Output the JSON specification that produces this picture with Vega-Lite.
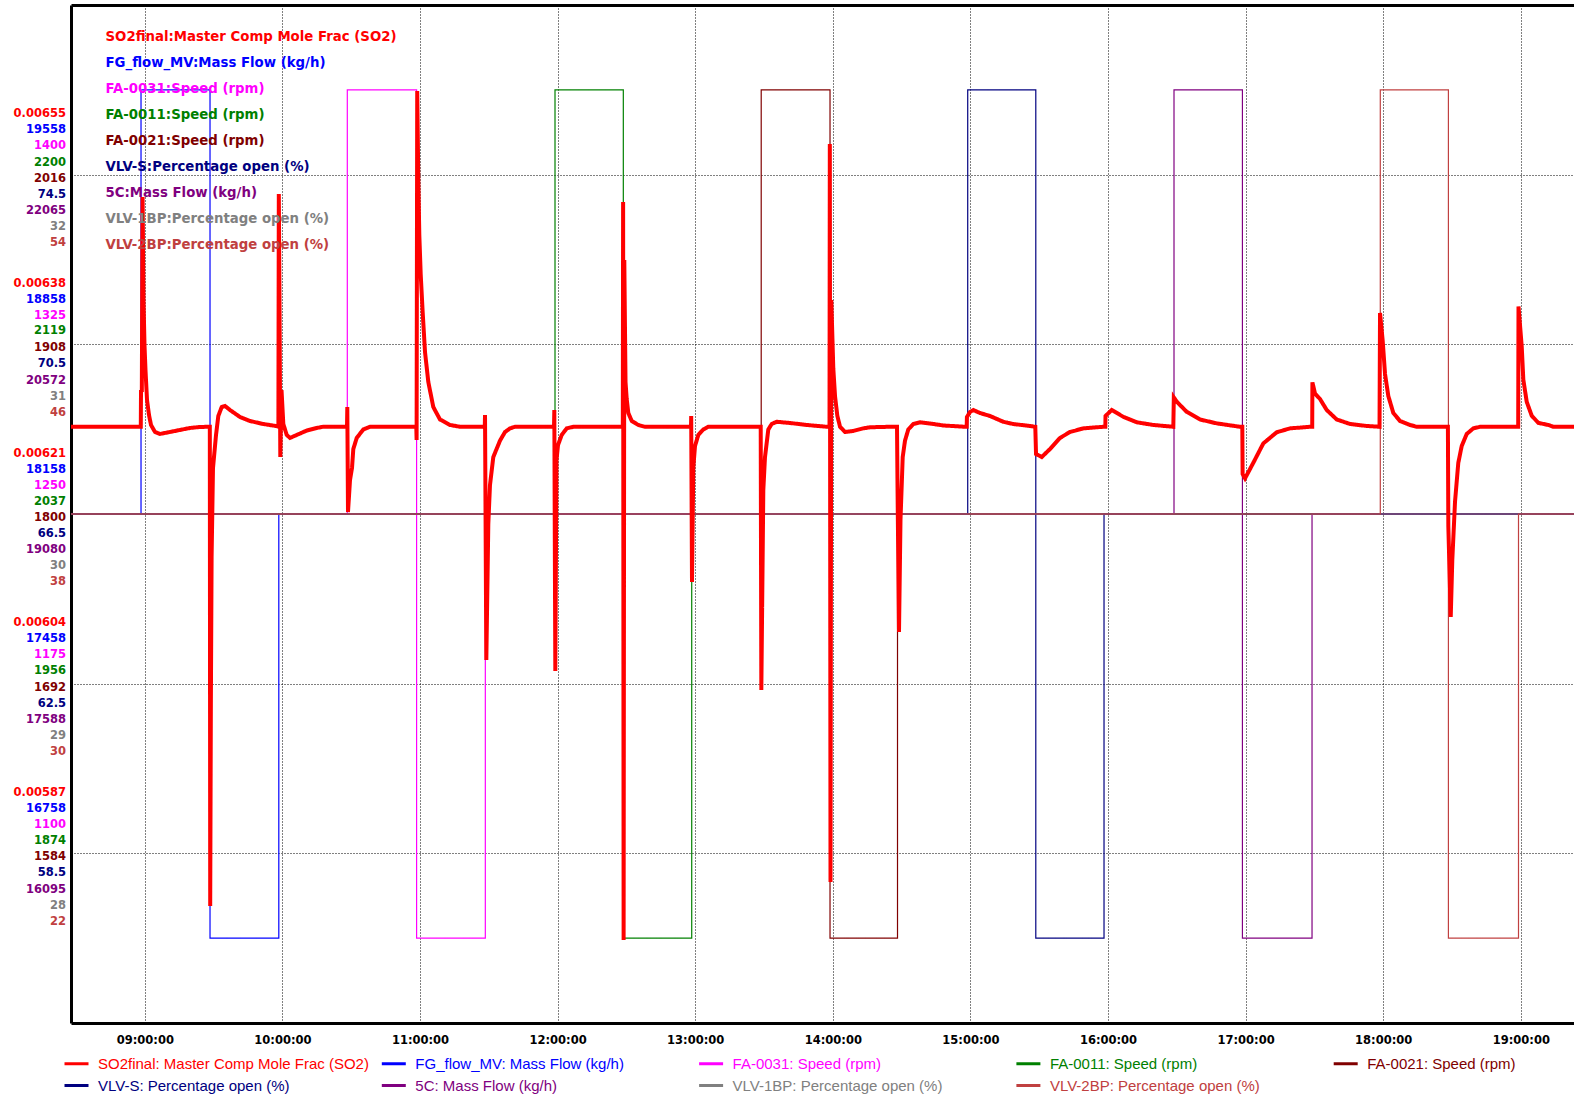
{
  "$schema": "https://vega.github.io/schema/vega-lite/v6.json",
  "width": 1503,
  "height": 1018,
  "autosize": {"type": "none"},
  "padding": {"left": 71, "top": 5, "right": 0, "bottom": 75},
  "background": "white",
  "config": {
    "view": {"stroke": null},
    "axis": {"labelFont": "DejaVu Sans", "labelFontWeight": "bold", "labelFontSize": 11.5, "ticks": false, "tickSize": 0, "domain": false, "grid": false, "title": null}
  },
  "data": {"values": [
    {"series": "FG_flow_MV: Mass Flow (kg/h)", "t": "2024-01-01T08:27:49", "v": 18158},
    {"series": "FG_flow_MV: Mass Flow (kg/h)", "t": "2024-01-01T08:58:21", "v": 19908},
    {"series": "FG_flow_MV: Mass Flow (kg/h)", "t": "2024-01-01T09:28:26", "v": 16408},
    {"series": "FG_flow_MV: Mass Flow (kg/h)", "t": "2024-01-01T09:58:26", "v": 18158},
    {"series": "FG_flow_MV: Mass Flow (kg/h)", "t": "2024-01-01T19:23:12", "v": 18158},
    {"series": "FA-0031: Speed (rpm)", "t": "2024-01-01T08:27:49", "v": 1250},
    {"series": "FA-0031: Speed (rpm)", "t": "2024-01-01T10:28:18", "v": 1437.5},
    {"series": "FA-0031: Speed (rpm)", "t": "2024-01-01T10:58:31", "v": 1062.5},
    {"series": "FA-0031: Speed (rpm)", "t": "2024-01-01T11:28:29", "v": 1250},
    {"series": "FA-0031: Speed (rpm)", "t": "2024-01-01T19:23:12", "v": 1250},
    {"series": "FA-0011: Speed (rpm)", "t": "2024-01-01T08:27:49", "v": 2037},
    {"series": "FA-0011: Speed (rpm)", "t": "2024-01-01T11:58:52", "v": 2240.7},
    {"series": "FA-0011: Speed (rpm)", "t": "2024-01-01T12:28:39", "v": 1833.3},
    {"series": "FA-0011: Speed (rpm)", "t": "2024-01-01T12:58:29", "v": 2037},
    {"series": "FA-0011: Speed (rpm)", "t": "2024-01-01T19:23:12", "v": 2037},
    {"series": "FA-0021: Speed (rpm)", "t": "2024-01-01T08:27:49", "v": 1800},
    {"series": "FA-0021: Speed (rpm)", "t": "2024-01-01T13:28:47", "v": 2070},
    {"series": "FA-0021: Speed (rpm)", "t": "2024-01-01T13:58:47", "v": 1530},
    {"series": "FA-0021: Speed (rpm)", "t": "2024-01-01T14:28:13", "v": 1800},
    {"series": "FA-0021: Speed (rpm)", "t": "2024-01-01T19:23:12", "v": 1800},
    {"series": "VLV-S: Percentage open (%)", "t": "2024-01-01T08:27:49", "v": 66.5},
    {"series": "VLV-S: Percentage open (%)", "t": "2024-01-01T14:58:50", "v": 76.5},
    {"series": "VLV-S: Percentage open (%)", "t": "2024-01-01T15:28:31", "v": 56.5},
    {"series": "VLV-S: Percentage open (%)", "t": "2024-01-01T15:58:16", "v": 66.5},
    {"series": "VLV-S: Percentage open (%)", "t": "2024-01-01T19:23:12", "v": 66.5},
    {"series": "5C: Mass Flow (kg/h)", "t": "2024-01-01T08:27:49", "v": 19080},
    {"series": "5C: Mass Flow (kg/h)", "t": "2024-01-01T16:28:47", "v": 22811},
    {"series": "5C: Mass Flow (kg/h)", "t": "2024-01-01T16:58:37", "v": 15349},
    {"series": "5C: Mass Flow (kg/h)", "t": "2024-01-01T17:28:58", "v": 19080},
    {"series": "5C: Mass Flow (kg/h)", "t": "2024-01-01T19:23:12", "v": 19080},
    {"series": "VLV-1BP: Percentage open (%)", "t": "2024-01-01T08:27:49", "v": 30},
    {"series": "VLV-1BP: Percentage open (%)", "t": "2024-01-01T19:23:12", "v": 30},
    {"series": "VLV-2BP: Percentage open (%)", "t": "2024-01-01T08:27:49", "v": 38},
    {"series": "VLV-2BP: Percentage open (%)", "t": "2024-01-01T17:58:44", "v": 58},
    {"series": "VLV-2BP: Percentage open (%)", "t": "2024-01-01T18:28:26", "v": 18},
    {"series": "VLV-2BP: Percentage open (%)", "t": "2024-01-01T18:59:00", "v": 38},
    {"series": "VLV-2BP: Percentage open (%)", "t": "2024-01-01T19:23:12", "v": 38},
    {"series": "SO2final: Master Comp Mole Frac (SO2)", "t": "2024-01-01T08:27:49", "v": 0.0062974},
    {"series": "SO2final: Master Comp Mole Frac (SO2)", "t": "2024-01-01T08:58:15", "v": 0.0062974},
    {"series": "SO2final: Master Comp Mole Frac (SO2)", "t": "2024-01-01T08:58:21", "v": 0.0063342},
    {"series": "SO2final: Master Comp Mole Frac (SO2)", "t": "2024-01-01T08:58:42", "v": 0.0063322},
    {"series": "SO2final: Master Comp Mole Frac (SO2)", "t": "2024-01-01T08:59:02", "v": 0.0065276},
    {"series": "SO2final: Master Comp Mole Frac (SO2)", "t": "2024-01-01T08:59:26", "v": 0.0064244},
    {"series": "SO2final: Master Comp Mole Frac (SO2)", "t": "2024-01-01T08:59:52", "v": 0.0063793},
    {"series": "SO2final: Master Comp Mole Frac (SO2)", "t": "2024-01-01T09:00:18", "v": 0.0063543},
    {"series": "SO2final: Master Comp Mole Frac (SO2)", "t": "2024-01-01T09:00:58", "v": 0.0063242},
    {"series": "SO2final: Master Comp Mole Frac (SO2)", "t": "2024-01-01T09:01:50", "v": 0.0063092},
    {"series": "SO2final: Master Comp Mole Frac (SO2)", "t": "2024-01-01T09:02:42", "v": 0.0062992},
    {"series": "SO2final: Master Comp Mole Frac (SO2)", "t": "2024-01-01T09:04:27", "v": 0.0062922},
    {"series": "SO2final: Master Comp Mole Frac (SO2)", "t": "2024-01-01T09:06:38", "v": 0.0062902},
    {"series": "SO2final: Master Comp Mole Frac (SO2)", "t": "2024-01-01T09:10:59", "v": 0.0062922},
    {"series": "SO2final: Master Comp Mole Frac (SO2)", "t": "2024-01-01T09:15:21", "v": 0.0062942},
    {"series": "SO2final: Master Comp Mole Frac (SO2)", "t": "2024-01-01T09:19:43", "v": 0.0062962},
    {"series": "SO2final: Master Comp Mole Frac (SO2)", "t": "2024-01-01T09:24:04", "v": 0.0062972},
    {"series": "SO2final: Master Comp Mole Frac (SO2)", "t": "2024-01-01T09:28:21", "v": 0.0062974},
    {"series": "SO2final: Master Comp Mole Frac (SO2)", "t": "2024-01-01T09:28:31", "v": 0.0058172},
    {"series": "SO2final: Master Comp Mole Frac (SO2)", "t": "2024-01-01T09:28:49", "v": 0.0060236},
    {"series": "SO2final: Master Comp Mole Frac (SO2)", "t": "2024-01-01T09:29:08", "v": 0.0061679},
    {"series": "SO2final: Master Comp Mole Frac (SO2)", "t": "2024-01-01T09:29:44", "v": 0.0062561},
    {"series": "SO2final: Master Comp Mole Frac (SO2)", "t": "2024-01-01T09:31:03", "v": 0.0062892},
    {"series": "SO2final: Master Comp Mole Frac (SO2)", "t": "2024-01-01T09:32:03", "v": 0.0063082},
    {"series": "SO2final: Master Comp Mole Frac (SO2)", "t": "2024-01-01T09:33:32", "v": 0.0063172},
    {"series": "SO2final: Master Comp Mole Frac (SO2)", "t": "2024-01-01T09:34:58", "v": 0.0063182},
    {"series": "SO2final: Master Comp Mole Frac (SO2)", "t": "2024-01-01T09:37:09", "v": 0.0063142},
    {"series": "SO2final: Master Comp Mole Frac (SO2)", "t": "2024-01-01T09:41:31", "v": 0.0063072},
    {"series": "SO2final: Master Comp Mole Frac (SO2)", "t": "2024-01-01T09:45:52", "v": 0.0063032},
    {"series": "SO2final: Master Comp Mole Frac (SO2)", "t": "2024-01-01T09:51:32", "v": 0.0063002},
    {"series": "SO2final: Master Comp Mole Frac (SO2)", "t": "2024-01-01T09:57:13", "v": 0.0062982},
    {"series": "SO2final: Master Comp Mole Frac (SO2)", "t": "2024-01-01T09:58:15", "v": 0.0062974},
    {"series": "SO2final: Master Comp Mole Frac (SO2)", "t": "2024-01-01T09:58:26", "v": 0.0065306},
    {"series": "SO2final: Master Comp Mole Frac (SO2)", "t": "2024-01-01T09:58:44", "v": 0.0064244},
    {"series": "SO2final: Master Comp Mole Frac (SO2)", "t": "2024-01-01T09:59:05", "v": 0.0062671},
    {"series": "SO2final: Master Comp Mole Frac (SO2)", "t": "2024-01-01T09:59:37", "v": 0.0063342},
    {"series": "SO2final: Master Comp Mole Frac (SO2)", "t": "2024-01-01T10:00:24", "v": 0.0063002},
    {"series": "SO2final: Master Comp Mole Frac (SO2)", "t": "2024-01-01T10:01:53", "v": 0.0062892},
    {"series": "SO2final: Master Comp Mole Frac (SO2)", "t": "2024-01-01T10:03:19", "v": 0.0062862},
    {"series": "SO2final: Master Comp Mole Frac (SO2)", "t": "2024-01-01T10:06:14", "v": 0.0062892},
    {"series": "SO2final: Master Comp Mole Frac (SO2)", "t": "2024-01-01T10:10:36", "v": 0.0062936},
    {"series": "SO2final: Master Comp Mole Frac (SO2)", "t": "2024-01-01T10:14:57", "v": 0.0062962},
    {"series": "SO2final: Master Comp Mole Frac (SO2)", "t": "2024-01-01T10:17:42", "v": 0.0062974},
    {"series": "SO2final: Master Comp Mole Frac (SO2)", "t": "2024-01-01T10:28:10", "v": 0.0062974},
    {"series": "SO2final: Master Comp Mole Frac (SO2)", "t": "2024-01-01T10:28:18", "v": 0.0063172},
    {"series": "SO2final: Master Comp Mole Frac (SO2)", "t": "2024-01-01T10:28:36", "v": 0.006212},
    {"series": "SO2final: Master Comp Mole Frac (SO2)", "t": "2024-01-01T10:29:29", "v": 0.0062441},
    {"series": "SO2final: Master Comp Mole Frac (SO2)", "t": "2024-01-01T10:30:21", "v": 0.0062561},
    {"series": "SO2final: Master Comp Mole Frac (SO2)", "t": "2024-01-01T10:30:55", "v": 0.0062751},
    {"series": "SO2final: Master Comp Mole Frac (SO2)", "t": "2024-01-01T10:32:24", "v": 0.0062862},
    {"series": "SO2final: Master Comp Mole Frac (SO2)", "t": "2024-01-01T10:35:17", "v": 0.0062947},
    {"series": "SO2final: Master Comp Mole Frac (SO2)", "t": "2024-01-01T10:38:12", "v": 0.0062974},
    {"series": "SO2final: Master Comp Mole Frac (SO2)", "t": "2024-01-01T10:58:23", "v": 0.0062974},
    {"series": "SO2final: Master Comp Mole Frac (SO2)", "t": "2024-01-01T10:58:31", "v": 0.0062841},
    {"series": "SO2final: Master Comp Mole Frac (SO2)", "t": "2024-01-01T10:58:47", "v": 0.0066338},
    {"series": "SO2final: Master Comp Mole Frac (SO2)", "t": "2024-01-01T10:59:16", "v": 0.0065447},
    {"series": "SO2final: Master Comp Mole Frac (SO2)", "t": "2024-01-01T10:59:42", "v": 0.0064896},
    {"series": "SO2final: Master Comp Mole Frac (SO2)", "t": "2024-01-01T11:00:18", "v": 0.0064505},
    {"series": "SO2final: Master Comp Mole Frac (SO2)", "t": "2024-01-01T11:01:11", "v": 0.0064114},
    {"series": "SO2final: Master Comp Mole Frac (SO2)", "t": "2024-01-01T11:02:11", "v": 0.0063723},
    {"series": "SO2final: Master Comp Mole Frac (SO2)", "t": "2024-01-01T11:03:37", "v": 0.0063423},
    {"series": "SO2final: Master Comp Mole Frac (SO2)", "t": "2024-01-01T11:05:48", "v": 0.0063172},
    {"series": "SO2final: Master Comp Mole Frac (SO2)", "t": "2024-01-01T11:08:43", "v": 0.0063047},
    {"series": "SO2final: Master Comp Mole Frac (SO2)", "t": "2024-01-01T11:13:05", "v": 0.0062992},
    {"series": "SO2final: Master Comp Mole Frac (SO2)", "t": "2024-01-01T11:17:27", "v": 0.0062974},
    {"series": "SO2final: Master Comp Mole Frac (SO2)", "t": "2024-01-01T11:28:15", "v": 0.0062974},
    {"series": "SO2final: Master Comp Mole Frac (SO2)", "t": "2024-01-01T11:28:21", "v": 0.0063092},
    {"series": "SO2final: Master Comp Mole Frac (SO2)", "t": "2024-01-01T11:28:55", "v": 0.0060637},
    {"series": "SO2final: Master Comp Mole Frac (SO2)", "t": "2024-01-01T11:29:26", "v": 0.0061449},
    {"series": "SO2final: Master Comp Mole Frac (SO2)", "t": "2024-01-01T11:29:47", "v": 0.0062},
    {"series": "SO2final: Master Comp Mole Frac (SO2)", "t": "2024-01-01T11:30:31", "v": 0.0062391},
    {"series": "SO2final: Master Comp Mole Frac (SO2)", "t": "2024-01-01T11:31:58", "v": 0.0062671},
    {"series": "SO2final: Master Comp Mole Frac (SO2)", "t": "2024-01-01T11:34:53", "v": 0.0062835},
    {"series": "SO2final: Master Comp Mole Frac (SO2)", "t": "2024-01-01T11:37:04", "v": 0.0062922},
    {"series": "SO2final: Master Comp Mole Frac (SO2)", "t": "2024-01-01T11:39:15", "v": 0.0062958},
    {"series": "SO2final: Master Comp Mole Frac (SO2)", "t": "2024-01-01T11:41:25", "v": 0.0062974},
    {"series": "SO2final: Master Comp Mole Frac (SO2)", "t": "2024-01-01T11:58:26", "v": 0.0062974},
    {"series": "SO2final: Master Comp Mole Frac (SO2)", "t": "2024-01-01T11:58:34", "v": 0.0063142},
    {"series": "SO2final: Master Comp Mole Frac (SO2)", "t": "2024-01-01T11:59:00", "v": 0.0060527},
    {"series": "SO2final: Master Comp Mole Frac (SO2)", "t": "2024-01-01T11:59:31", "v": 0.0062641},
    {"series": "SO2final: Master Comp Mole Frac (SO2)", "t": "2024-01-01T12:00:11", "v": 0.0062791},
    {"series": "SO2final: Master Comp Mole Frac (SO2)", "t": "2024-01-01T12:01:47", "v": 0.0062892},
    {"series": "SO2final: Master Comp Mole Frac (SO2)", "t": "2024-01-01T12:03:58", "v": 0.0062958},
    {"series": "SO2final: Master Comp Mole Frac (SO2)", "t": "2024-01-01T12:06:51", "v": 0.0062974},
    {"series": "SO2final: Master Comp Mole Frac (SO2)", "t": "2024-01-01T12:28:26", "v": 0.0062974},
    {"series": "SO2final: Master Comp Mole Frac (SO2)", "t": "2024-01-01T12:28:34", "v": 0.0065226},
    {"series": "SO2final: Master Comp Mole Frac (SO2)", "t": "2024-01-01T12:28:47", "v": 0.0057831},
    {"series": "SO2final: Master Comp Mole Frac (SO2)", "t": "2024-01-01T12:29:05", "v": 0.0064645},
    {"series": "SO2final: Master Comp Mole Frac (SO2)", "t": "2024-01-01T12:29:37", "v": 0.0063423},
    {"series": "SO2final: Master Comp Mole Frac (SO2)", "t": "2024-01-01T12:30:08", "v": 0.0063252},
    {"series": "SO2final: Master Comp Mole Frac (SO2)", "t": "2024-01-01T12:30:50", "v": 0.0063112},
    {"series": "SO2final: Master Comp Mole Frac (SO2)", "t": "2024-01-01T12:32:19", "v": 0.0063032},
    {"series": "SO2final: Master Comp Mole Frac (SO2)", "t": "2024-01-01T12:35:11", "v": 0.0062992},
    {"series": "SO2final: Master Comp Mole Frac (SO2)", "t": "2024-01-01T12:38:07", "v": 0.0062974},
    {"series": "SO2final: Master Comp Mole Frac (SO2)", "t": "2024-01-01T12:58:10", "v": 0.0062974},
    {"series": "SO2final: Master Comp Mole Frac (SO2)", "t": "2024-01-01T12:58:15", "v": 0.0063082},
    {"series": "SO2final: Master Comp Mole Frac (SO2)", "t": "2024-01-01T12:58:36", "v": 0.0061419},
    {"series": "SO2final: Master Comp Mole Frac (SO2)", "t": "2024-01-01T12:59:10", "v": 0.0062561},
    {"series": "SO2final: Master Comp Mole Frac (SO2)", "t": "2024-01-01T12:59:55", "v": 0.0062781},
    {"series": "SO2final: Master Comp Mole Frac (SO2)", "t": "2024-01-01T13:01:21", "v": 0.0062892},
    {"series": "SO2final: Master Comp Mole Frac (SO2)", "t": "2024-01-01T13:03:32", "v": 0.0062947},
    {"series": "SO2final: Master Comp Mole Frac (SO2)", "t": "2024-01-01T13:05:43", "v": 0.0062974},
    {"series": "SO2final: Master Comp Mole Frac (SO2)", "t": "2024-01-01T13:28:34", "v": 0.0062974},
    {"series": "SO2final: Master Comp Mole Frac (SO2)", "t": "2024-01-01T13:28:50", "v": 0.0060337},
    {"series": "SO2final: Master Comp Mole Frac (SO2)", "t": "2024-01-01T13:29:42", "v": 0.006234},
    {"series": "SO2final: Master Comp Mole Frac (SO2)", "t": "2024-01-01T13:30:26", "v": 0.0062671},
    {"series": "SO2final: Master Comp Mole Frac (SO2)", "t": "2024-01-01T13:31:53", "v": 0.0062947},
    {"series": "SO2final: Master Comp Mole Frac (SO2)", "t": "2024-01-01T13:33:22", "v": 0.0063002},
    {"series": "SO2final: Master Comp Mole Frac (SO2)", "t": "2024-01-01T13:35:32", "v": 0.0063024},
    {"series": "SO2final: Master Comp Mole Frac (SO2)", "t": "2024-01-01T13:41:20", "v": 0.0063012},
    {"series": "SO2final: Master Comp Mole Frac (SO2)", "t": "2024-01-01T13:48:37", "v": 0.0062992},
    {"series": "SO2final: Master Comp Mole Frac (SO2)", "t": "2024-01-01T13:57:21", "v": 0.0062974},
    {"series": "SO2final: Master Comp Mole Frac (SO2)", "t": "2024-01-01T13:58:34", "v": 0.0062974},
    {"series": "SO2final: Master Comp Mole Frac (SO2)", "t": "2024-01-01T13:58:42", "v": 0.0065807},
    {"series": "SO2final: Master Comp Mole Frac (SO2)", "t": "2024-01-01T13:59:00", "v": 0.0058413},
    {"series": "SO2final: Master Comp Mole Frac (SO2)", "t": "2024-01-01T13:59:21", "v": 0.0064244},
    {"series": "SO2final: Master Comp Mole Frac (SO2)", "t": "2024-01-01T14:00:13", "v": 0.0063558},
    {"series": "SO2final: Master Comp Mole Frac (SO2)", "t": "2024-01-01T14:00:58", "v": 0.0063282},
    {"series": "SO2final: Master Comp Mole Frac (SO2)", "t": "2024-01-01T14:01:58", "v": 0.0063085},
    {"series": "SO2final: Master Comp Mole Frac (SO2)", "t": "2024-01-01T14:03:09", "v": 0.0062974},
    {"series": "SO2final: Master Comp Mole Frac (SO2)", "t": "2024-01-01T14:05:19", "v": 0.0062922},
    {"series": "SO2final: Master Comp Mole Frac (SO2)", "t": "2024-01-01T14:08:57", "v": 0.0062932},
    {"series": "SO2final: Master Comp Mole Frac (SO2)", "t": "2024-01-01T14:13:18", "v": 0.0062958},
    {"series": "SO2final: Master Comp Mole Frac (SO2)", "t": "2024-01-01T14:16:13", "v": 0.0062969},
    {"series": "SO2final: Master Comp Mole Frac (SO2)", "t": "2024-01-01T14:24:57", "v": 0.0062974},
    {"series": "SO2final: Master Comp Mole Frac (SO2)", "t": "2024-01-01T14:28:00", "v": 0.0062974},
    {"series": "SO2final: Master Comp Mole Frac (SO2)", "t": "2024-01-01T14:28:13", "v": 0.0062391},
    {"series": "SO2final: Master Comp Mole Frac (SO2)", "t": "2024-01-01T14:28:52", "v": 0.0060918},
    {"series": "SO2final: Master Comp Mole Frac (SO2)", "t": "2024-01-01T14:29:31", "v": 0.006204},
    {"series": "SO2final: Master Comp Mole Frac (SO2)", "t": "2024-01-01T14:30:29", "v": 0.0062671},
    {"series": "SO2final: Master Comp Mole Frac (SO2)", "t": "2024-01-01T14:31:29", "v": 0.0062835},
    {"series": "SO2final: Master Comp Mole Frac (SO2)", "t": "2024-01-01T14:32:55", "v": 0.0062947},
    {"series": "SO2final: Master Comp Mole Frac (SO2)", "t": "2024-01-01T14:35:06", "v": 0.0063002},
    {"series": "SO2final: Master Comp Mole Frac (SO2)", "t": "2024-01-01T14:38:02", "v": 0.0063019},
    {"series": "SO2final: Master Comp Mole Frac (SO2)", "t": "2024-01-01T14:43:50", "v": 0.0063002},
    {"series": "SO2final: Master Comp Mole Frac (SO2)", "t": "2024-01-01T14:48:11", "v": 0.0062987},
    {"series": "SO2final: Master Comp Mole Frac (SO2)", "t": "2024-01-01T14:57:39", "v": 0.0062974},
    {"series": "SO2final: Master Comp Mole Frac (SO2)", "t": "2024-01-01T14:58:23", "v": 0.0062974},
    {"series": "SO2final: Master Comp Mole Frac (SO2)", "t": "2024-01-01T14:58:29", "v": 0.0063072},
    {"series": "SO2final: Master Comp Mole Frac (SO2)", "t": "2024-01-01T14:59:50", "v": 0.0063122},
    {"series": "SO2final: Master Comp Mole Frac (SO2)", "t": "2024-01-01T15:01:16", "v": 0.0063142},
    {"series": "SO2final: Master Comp Mole Frac (SO2)", "t": "2024-01-01T15:04:11", "v": 0.0063112},
    {"series": "SO2final: Master Comp Mole Frac (SO2)", "t": "2024-01-01T15:08:33", "v": 0.0063082},
    {"series": "SO2final: Master Comp Mole Frac (SO2)", "t": "2024-01-01T15:14:21", "v": 0.0063024},
    {"series": "SO2final: Master Comp Mole Frac (SO2)", "t": "2024-01-01T15:18:35", "v": 0.0063002},
    {"series": "SO2final: Master Comp Mole Frac (SO2)", "t": "2024-01-01T15:25:59", "v": 0.0062982},
    {"series": "SO2final: Master Comp Mole Frac (SO2)", "t": "2024-01-01T15:28:18", "v": 0.0062974},
    {"series": "SO2final: Master Comp Mole Frac (SO2)", "t": "2024-01-01T15:28:37", "v": 0.0062701},
    {"series": "SO2final: Master Comp Mole Frac (SO2)", "t": "2024-01-01T15:31:06", "v": 0.0062671},
    {"series": "SO2final: Master Comp Mole Frac (SO2)", "t": "2024-01-01T15:34:43", "v": 0.0062751},
    {"series": "SO2final: Master Comp Mole Frac (SO2)", "t": "2024-01-01T15:39:04", "v": 0.0062862},
    {"series": "SO2final: Master Comp Mole Frac (SO2)", "t": "2024-01-01T15:43:26", "v": 0.0062922},
    {"series": "SO2final: Master Comp Mole Frac (SO2)", "t": "2024-01-01T15:49:14", "v": 0.0062958},
    {"series": "SO2final: Master Comp Mole Frac (SO2)", "t": "2024-01-01T15:57:57", "v": 0.0062974},
    {"series": "SO2final: Master Comp Mole Frac (SO2)", "t": "2024-01-01T15:58:50", "v": 0.0062974},
    {"series": "SO2final: Master Comp Mole Frac (SO2)", "t": "2024-01-01T15:58:55", "v": 0.0063082},
    {"series": "SO2final: Master Comp Mole Frac (SO2)", "t": "2024-01-01T16:01:37", "v": 0.0063142},
    {"series": "SO2final: Master Comp Mole Frac (SO2)", "t": "2024-01-01T16:06:40", "v": 0.0063074},
    {"series": "SO2final: Master Comp Mole Frac (SO2)", "t": "2024-01-01T16:12:31", "v": 0.0063019},
    {"series": "SO2final: Master Comp Mole Frac (SO2)", "t": "2024-01-01T16:19:45", "v": 0.0062992},
    {"series": "SO2final: Master Comp Mole Frac (SO2)", "t": "2024-01-01T16:28:29", "v": 0.0062974},
    {"series": "SO2final: Master Comp Mole Frac (SO2)", "t": "2024-01-01T16:28:42", "v": 0.0063268},
    {"series": "SO2final: Master Comp Mole Frac (SO2)", "t": "2024-01-01T16:30:06", "v": 0.0063222},
    {"series": "SO2final: Master Comp Mole Frac (SO2)", "t": "2024-01-01T16:34:19", "v": 0.0063124},
    {"series": "SO2final: Master Comp Mole Frac (SO2)", "t": "2024-01-01T16:40:07", "v": 0.0063047},
    {"series": "SO2final: Master Comp Mole Frac (SO2)", "t": "2024-01-01T16:47:24", "v": 0.0063008},
    {"series": "SO2final: Master Comp Mole Frac (SO2)", "t": "2024-01-01T16:57:34", "v": 0.0062974},
    {"series": "SO2final: Master Comp Mole Frac (SO2)", "t": "2024-01-01T16:58:34", "v": 0.0062974},
    {"series": "SO2final: Master Comp Mole Frac (SO2)", "t": "2024-01-01T16:58:42", "v": 0.0062501},
    {"series": "SO2final: Master Comp Mole Frac (SO2)", "t": "2024-01-01T16:59:45", "v": 0.0062457},
    {"series": "SO2final: Master Comp Mole Frac (SO2)", "t": "2024-01-01T17:03:22", "v": 0.0062613},
    {"series": "SO2final: Master Comp Mole Frac (SO2)", "t": "2024-01-01T17:07:43", "v": 0.0062807},
    {"series": "SO2final: Master Comp Mole Frac (SO2)", "t": "2024-01-01T17:13:34", "v": 0.0062919},
    {"series": "SO2final: Master Comp Mole Frac (SO2)", "t": "2024-01-01T17:19:22", "v": 0.0062958},
    {"series": "SO2final: Master Comp Mole Frac (SO2)", "t": "2024-01-01T17:28:05", "v": 0.0062974},
    {"series": "SO2final: Master Comp Mole Frac (SO2)", "t": "2024-01-01T17:29:03", "v": 0.0062974},
    {"series": "SO2final: Master Comp Mole Frac (SO2)", "t": "2024-01-01T17:29:08", "v": 0.0063419},
    {"series": "SO2final: Master Comp Mole Frac (SO2)", "t": "2024-01-01T17:30:16", "v": 0.0063307},
    {"series": "SO2final: Master Comp Mole Frac (SO2)", "t": "2024-01-01T17:32:27", "v": 0.0063252},
    {"series": "SO2final: Master Comp Mole Frac (SO2)", "t": "2024-01-01T17:35:22", "v": 0.0063142},
    {"series": "SO2final: Master Comp Mole Frac (SO2)", "t": "2024-01-01T17:39:44", "v": 0.0063047},
    {"series": "SO2final: Master Comp Mole Frac (SO2)", "t": "2024-01-01T17:45:32", "v": 0.0063002},
    {"series": "SO2final: Master Comp Mole Frac (SO2)", "t": "2024-01-01T17:52:49", "v": 0.0062982},
    {"series": "SO2final: Master Comp Mole Frac (SO2)", "t": "2024-01-01T17:58:24", "v": 0.0062974},
    {"series": "SO2final: Master Comp Mole Frac (SO2)", "t": "2024-01-01T17:58:37", "v": 0.0064114},
    {"series": "SO2final: Master Comp Mole Frac (SO2)", "t": "2024-01-01T17:59:47", "v": 0.0063835},
    {"series": "SO2final: Master Comp Mole Frac (SO2)", "t": "2024-01-01T18:00:48", "v": 0.0063503},
    {"series": "SO2final: Master Comp Mole Frac (SO2)", "t": "2024-01-01T18:02:14", "v": 0.0063282},
    {"series": "SO2final: Master Comp Mole Frac (SO2)", "t": "2024-01-01T18:04:25", "v": 0.0063112},
    {"series": "SO2final: Master Comp Mole Frac (SO2)", "t": "2024-01-01T18:07:20", "v": 0.0063032},
    {"series": "SO2final: Master Comp Mole Frac (SO2)", "t": "2024-01-01T18:11:42", "v": 0.0062992},
    {"series": "SO2final: Master Comp Mole Frac (SO2)", "t": "2024-01-01T18:14:37", "v": 0.0062974},
    {"series": "SO2final: Master Comp Mole Frac (SO2)", "t": "2024-01-01T18:28:13", "v": 0.0062974},
    {"series": "SO2final: Master Comp Mole Frac (SO2)", "t": "2024-01-01T18:28:24", "v": 0.006198},
    {"series": "SO2final: Master Comp Mole Frac (SO2)", "t": "2024-01-01T18:29:27", "v": 0.0061068},
    {"series": "SO2final: Master Comp Mole Frac (SO2)", "t": "2024-01-01T18:30:08", "v": 0.0061639},
    {"series": "SO2final: Master Comp Mole Frac (SO2)", "t": "2024-01-01T18:31:19", "v": 0.0062223},
    {"series": "SO2final: Master Comp Mole Frac (SO2)", "t": "2024-01-01T18:32:45", "v": 0.0062613},
    {"series": "SO2final: Master Comp Mole Frac (SO2)", "t": "2024-01-01T18:34:14", "v": 0.0062781},
    {"series": "SO2final: Master Comp Mole Frac (SO2)", "t": "2024-01-01T18:36:25", "v": 0.0062902},
    {"series": "SO2final: Master Comp Mole Frac (SO2)", "t": "2024-01-01T18:39:18", "v": 0.0062958},
    {"series": "SO2final: Master Comp Mole Frac (SO2)", "t": "2024-01-01T18:42:13", "v": 0.0062974},
    {"series": "SO2final: Master Comp Mole Frac (SO2)", "t": "2024-01-01T18:58:52", "v": 0.0062974},
    {"series": "SO2final: Master Comp Mole Frac (SO2)", "t": "2024-01-01T18:59:00", "v": 0.006418},
    {"series": "SO2final: Master Comp Mole Frac (SO2)", "t": "2024-01-01T19:00:24", "v": 0.006378},
    {"series": "SO2final: Master Comp Mole Frac (SO2)", "t": "2024-01-01T19:01:06", "v": 0.0063447},
    {"series": "SO2final: Master Comp Mole Frac (SO2)", "t": "2024-01-01T19:02:35", "v": 0.0063224},
    {"series": "SO2final: Master Comp Mole Frac (SO2)", "t": "2024-01-01T19:04:46", "v": 0.0063085},
    {"series": "SO2final: Master Comp Mole Frac (SO2)", "t": "2024-01-01T19:07:38", "v": 0.0063013},
    {"series": "SO2final: Master Comp Mole Frac (SO2)", "t": "2024-01-01T19:12:00", "v": 0.0062992},
    {"series": "SO2final: Master Comp Mole Frac (SO2)", "t": "2024-01-01T19:14:11", "v": 0.0062974},
    {"series": "SO2final: Master Comp Mole Frac (SO2)", "t": "2024-01-01T19:23:12", "v": 0.0062974}
  ]},
  "encoding": {
    "x": {"field": "t", "type": "temporal", "scale": {"domain": [{"year": 2024, "month": 1, "date": 1, "hours": 8, "minutes": 27, "seconds": 49}, {"year": 2024, "month": 1, "date": 1, "hours": 19, "minutes": 23, "seconds": 12}]}, "axis": null},
    "color": {
      "field": "series", "type": "nominal",
      "scale": {
        "domain": ["SO2final: Master Comp Mole Frac (SO2)", "FG_flow_MV: Mass Flow (kg/h)", "FA-0031: Speed (rpm)", "FA-0011: Speed (rpm)", "FA-0021: Speed (rpm)", "VLV-S: Percentage open (%)", "5C: Mass Flow (kg/h)", "VLV-1BP: Percentage open (%)", "VLV-2BP: Percentage open (%)"],
        "range": ["#ff0000", "#0000ff", "#ff00ff", "#008000", "#800000", "#000080", "#800080", "#808080", "#c04040"]
      },
      "legend": {
        "orient": "none", "legendX": -8, "legendY": 1045, "direction": "horizontal", "columns": 5, "gridAlign": "all",
        "title": null, "symbolType": "stroke", "symbolSize": 576, "symbolStrokeWidth": 3,
        "labelFont": "Liberation Sans", "labelFontSize": 15, "labelLimit": 400, "labelOffset": 8,
        "columnPadding": 6.3, "rowPadding": 0, "padding": 0,
        "labelColor": {"expr": "scale('color', datum.value)"}
      }
    },
    "strokeDash": {
      "field": "series", "type": "nominal",
      "scale": {
        "domain": ["SO2final: Master Comp Mole Frac (SO2)", "FG_flow_MV: Mass Flow (kg/h)", "FA-0031: Speed (rpm)", "FA-0011: Speed (rpm)", "FA-0021: Speed (rpm)", "VLV-S: Percentage open (%)", "5C: Mass Flow (kg/h)", "VLV-1BP: Percentage open (%)", "VLV-2BP: Percentage open (%)"],
        "range": [[1, 0], [1, 0], [1, 0], [1, 0], [1, 0], [1, 0], [1, 0], [1, 0], [1, 0]]
      },
      "legend": {
        "orient": "top-left", "offset": 24.8, "title": null, "symbolOpacity": 0, "symbolSize": 0,
        "labelFont": "DejaVu Sans", "labelFontSize": 13.3, "labelFontWeight": "bold", "labelLimit": 500, "labelOffset": -3.8,
        "rowPadding": 12.1, "padding": 0,
        "labelExpr": "replace(datum.label, ': ', ':')",
        "labelColor": {"expr": "scale('color', datum.value)"}
      }
    }
  },
  "layer": [
    {
      "transform": [{"filter": {"field": "series", "equal": "FG_flow_MV: Mass Flow (kg/h)"}}],
      "mark": {"type": "line", "interpolate": "step-after", "strokeWidth": 1.2, "clip": true},
      "encoding": {
        "x": {"field": "t", "type": "temporal", "scale": {"domain": [{"year": 2024, "month": 1, "date": 1, "hours": 8, "minutes": 27, "seconds": 49}, {"year": 2024, "month": 1, "date": 1, "hours": 19, "minutes": 23, "seconds": 12}]},
          "axis": {"orient": "bottom", "title": null, "format": "%H:%M:%S", "labelColor": "black", "labelPadding": 11, "labelFlush": false,
            "values": [{"year": 2024, "month": 1, "date": 1, "hours": 9}, {"year": 2024, "month": 1, "date": 1, "hours": 10}, {"year": 2024, "month": 1, "date": 1, "hours": 11}, {"year": 2024, "month": 1, "date": 1, "hours": 12}, {"year": 2024, "month": 1, "date": 1, "hours": 13}, {"year": 2024, "month": 1, "date": 1, "hours": 14}, {"year": 2024, "month": 1, "date": 1, "hours": 15}, {"year": 2024, "month": 1, "date": 1, "hours": 16}, {"year": 2024, "month": 1, "date": 1, "hours": 17}, {"year": 2024, "month": 1, "date": 1, "hours": 18}, {"year": 2024, "month": 1, "date": 1, "hours": 19}],
            "grid": true, "gridColor": "black", "gridDash": [1, 2], "gridWidth": 1, "gridOpacity": 1,
            "domain": true, "domainColor": "black", "domainWidth": 3, "ticks": false}},
        "y": {"field": "v", "type": "quantitative", "scale": {"domain": [16058, 20258], "nice": false, "zero": false},
          "axis": {"orient": "left", "title": null, "values": [19558, 18858, 18158, 17458, 16758], "format": "d", "labelColor": "#0000ff", "labelOffset": -44.8, "labelPadding": 5.5}}
      }
    },
    {
      "transform": [{"filter": {"field": "series", "equal": "FA-0031: Speed (rpm)"}}],
      "mark": {"type": "line", "interpolate": "step-after", "strokeWidth": 1.2, "clip": true},
      "encoding": {
        "x": {"field": "t", "type": "temporal", "scale": {"domain": [{"year": 2024, "month": 1, "date": 1, "hours": 8, "minutes": 27, "seconds": 49}, {"year": 2024, "month": 1, "date": 1, "hours": 19, "minutes": 23, "seconds": 12}]},
          "axis": {"orient": "top", "title": null, "labels": false, "ticks": false, "grid": false, "domain": true, "domainColor": "black", "domainWidth": 3}},
        "y": {"field": "v", "type": "quantitative", "scale": {"domain": [1025, 1475], "nice": false, "zero": false},
          "axis": {"orient": "left", "title": null, "values": [1400, 1325, 1250, 1175, 1100], "format": "d", "labelColor": "#ff00ff", "labelOffset": -28.7, "labelPadding": 5.5}}
      }
    },
    {
      "transform": [{"filter": {"field": "series", "equal": "FA-0011: Speed (rpm)"}}],
      "mark": {"type": "line", "interpolate": "step-after", "strokeWidth": 1.2, "clip": true},
      "encoding": {
        "y": {"field": "v", "type": "quantitative", "scale": {"domain": [1792.5, 2281.5], "nice": false, "zero": false},
          "axis": {"orient": "left", "title": null, "values": [2200, 2119, 2037, 1956, 1874], "format": "d", "labelColor": "#008000", "labelOffset": -12.6, "labelPadding": 5.5}}
      }
    },
    {
      "transform": [{"filter": {"field": "series", "equal": "FA-0021: Speed (rpm)"}}],
      "mark": {"type": "line", "interpolate": "step-after", "strokeWidth": 1.2, "clip": true},
      "encoding": {
        "y": {"field": "v", "type": "quantitative", "scale": {"domain": [1476, 2124], "nice": false, "zero": false},
          "axis": {"orient": "left", "title": null, "values": [2016, 1908, 1800, 1692, 1584], "format": "d", "labelColor": "#800000", "labelOffset": 3.5, "labelPadding": 5.5,
            "grid": true, "gridColor": "black", "gridDash": [1, 2], "gridWidth": 1, "gridOpacity": 1,
            "domain": true, "domainColor": "black", "domainWidth": 3}}
      }
    },
    {
      "transform": [{"filter": {"field": "series", "equal": "VLV-S: Percentage open (%)"}}],
      "mark": {"type": "line", "interpolate": "step-after", "strokeWidth": 1.2, "clip": true},
      "encoding": {
        "y": {"field": "v", "type": "quantitative", "scale": {"domain": [54.5, 78.5], "nice": false, "zero": false},
          "axis": {"orient": "left", "title": null, "values": [74.5, 70.5, 66.5, 62.5, 58.5], "format": ".1f", "labelColor": "#000080", "labelOffset": 19.6, "labelPadding": 5.5}}
      }
    },
    {
      "transform": [{"filter": {"field": "series", "equal": "5C: Mass Flow (kg/h)"}}],
      "mark": {"type": "line", "interpolate": "step-after", "strokeWidth": 1.2, "clip": true},
      "encoding": {
        "y": {"field": "v", "type": "quantitative", "scale": {"domain": [14602.5, 23557.5], "nice": false, "zero": false},
          "axis": {"orient": "left", "title": null, "values": [22065, 20572, 19080, 17588, 16095], "format": "d", "labelColor": "#800080", "labelOffset": 35.7, "labelPadding": 5.5}}
      }
    },
    {
      "transform": [{"filter": {"field": "series", "equal": "VLV-1BP: Percentage open (%)"}}],
      "mark": {"type": "line", "interpolate": "step-after", "strokeWidth": 1.2, "clip": true},
      "encoding": {
        "y": {"field": "v", "type": "quantitative", "scale": {"domain": [27, 33], "nice": false, "zero": false},
          "axis": {"orient": "left", "title": null, "values": [32, 31, 30, 29, 28], "format": "d", "labelColor": "#808080", "labelOffset": 51.8, "labelPadding": 5.5}}
      }
    },
    {
      "transform": [{"filter": {"field": "series", "equal": "VLV-2BP: Percentage open (%)"}}],
      "mark": {"type": "line", "interpolate": "step-after", "strokeWidth": 1.2, "clip": true},
      "encoding": {
        "y": {"field": "v", "type": "quantitative", "scale": {"domain": [14, 62], "nice": false, "zero": false},
          "axis": {"orient": "left", "title": null, "values": [54, 46, 38, 30, 22], "format": "d", "labelColor": "#c04040", "labelOffset": 67.9, "labelPadding": 5.5}}
      }
    },
    {
      "transform": [{"filter": {"field": "series", "equal": "SO2final: Master Comp Mole Frac (SO2)"}}],
      "mark": {"type": "line", "interpolate": "linear", "strokeWidth": 4, "clip": true},
      "encoding": {
        "y": {"field": "v", "type": "quantitative", "scale": {"domain": [0.0057, 0.00672], "nice": false, "zero": false},
          "axis": {"orient": "left", "title": null, "values": [0.00655, 0.00638, 0.00621, 0.00604, 0.00587], "format": ".5f", "labelColor": "#ff0000", "labelOffset": -60.9, "labelPadding": 5.5}}
      }
    }
  ],
  "resolve": {"scale": {"y": "independent"}, "axis": {"x": "independent", "y": "independent"}}
}
